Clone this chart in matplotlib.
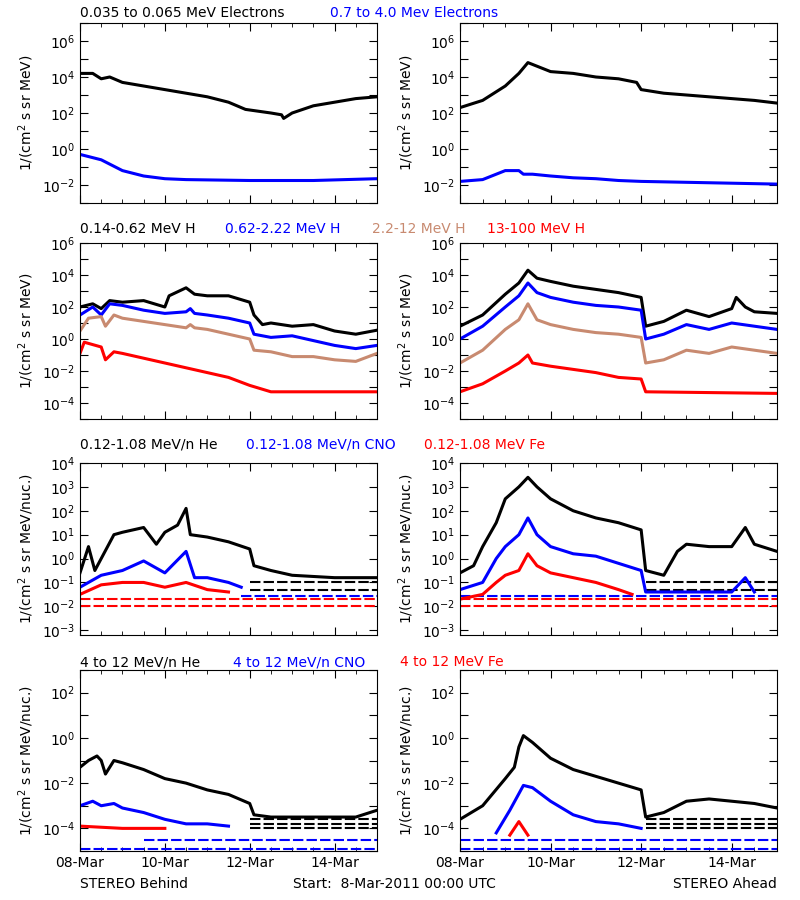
import numpy as np
import matplotlib
matplotlib.use("Agg")
import matplotlib.pyplot as plt
from matplotlib.ticker import FixedLocator, NullFormatter, MultipleLocator

# ---------------- data (log10 flux, t in days from 08-Mar 00:00) ----------------
# row 1: electrons
b_e_lo_t = [0, 0.3, 0.5, 0.7, 1.0, 1.5, 2.0, 2.5, 3.0, 3.5, 3.9, 4.5, 4.75, 4.8, 5.0, 5.5, 6.0, 6.5, 7.0]
b_e_lo_v = [4.2, 4.2, 3.9, 4.0, 3.7, 3.5, 3.3, 3.1, 2.9, 2.6, 2.2, 2.0, 1.9, 1.7, 2.0, 2.4, 2.6, 2.8, 2.9]
b_e_hi_t = [0, 0.5, 1.0, 1.5, 2.0, 2.5, 4.0, 5.5, 7.0]
b_e_hi_v = [-0.3, -0.6, -1.2, -1.5, -1.65, -1.7, -1.75, -1.75, -1.65]
a_e_lo_t = [0, 0.5, 1.0, 1.3, 1.5, 2.0, 2.5, 3.0, 3.5, 3.9, 4.0, 4.5, 5.0, 5.5, 6.0, 6.5, 7.0]
a_e_lo_v = [2.3, 2.7, 3.5, 4.2, 4.8, 4.3, 4.2, 4.0, 3.9, 3.7, 3.3, 3.1, 3.0, 2.9, 2.8, 2.7, 2.55]
a_e_hi_t = [0, 0.5, 1.0, 1.3, 1.4, 1.6, 2.0, 2.5, 3.0, 3.5, 4.0, 5.0, 6.0, 7.0]
a_e_hi_v = [-1.8, -1.7, -1.2, -1.2, -1.4, -1.4, -1.5, -1.6, -1.65, -1.75, -1.8, -1.85, -1.9, -1.95]

# row 2: protons
b_h1_t = [0, 0.3, 0.5, 0.7, 1.0, 1.5, 2.0, 2.1, 2.5, 2.7, 3.0, 3.5, 4.0, 4.1, 4.3, 4.5, 5.0, 5.5, 6.0, 6.5, 7.0]
b_h1_v = [2.0, 2.2, 1.9, 2.4, 2.3, 2.4, 2.0, 2.7, 3.2, 2.8, 2.7, 2.7, 2.3, 1.5, 0.9, 1.0, 0.8, 0.9, 0.5, 0.3, 0.55]
b_h2_t = [0, 0.3, 0.5, 0.7, 1.0, 1.5, 2.0, 2.5, 2.6, 2.7, 3.0, 3.5, 4.0, 4.1, 4.5, 5.0, 5.5, 6.0, 6.5, 7.0]
b_h2_v = [1.5, 2.0, 1.5, 2.2, 2.1, 1.8, 1.6, 1.7, 1.9, 1.6, 1.5, 1.3, 1.0, 0.3, 0.1, 0.2, -0.1, -0.4, -0.6, -0.4]
b_h3_t = [0, 0.2, 0.5, 0.6, 0.8, 1.0, 1.5, 2.0, 2.5, 2.6, 2.7, 3.0, 3.5, 4.0, 4.1, 4.5, 5.0, 5.5, 6.0, 6.5, 7.0]
b_h3_v = [0.5, 1.3, 1.4, 0.8, 1.5, 1.3, 1.1, 0.9, 0.7, 0.9, 0.7, 0.6, 0.3, 0.0, -0.7, -0.8, -1.1, -1.1, -1.3, -1.4, -0.9]
b_h4_t = [0, 0.1, 0.5, 0.6, 0.8, 1.0, 1.5, 2.0, 2.5, 3.0, 3.5, 4.0, 4.5, 5.0, 6.0, 7.0]
b_h4_v = [-0.9, -0.2, -0.5, -1.3, -0.8, -0.9, -1.2, -1.5, -1.8, -2.1, -2.4, -2.9, -3.3, -3.3, -3.3, -3.3]
a_h1_t = [0, 0.5, 1.0, 1.3, 1.5, 1.7, 2.0, 2.5, 3.0, 3.5, 4.0, 4.1, 4.5, 5.0, 5.5, 6.0, 6.1, 6.3, 6.5, 7.0]
a_h1_v = [0.8, 1.5, 2.8, 3.5, 4.3, 3.8, 3.6, 3.3, 3.1, 2.9, 2.6, 0.8, 1.1, 1.8, 1.4, 1.9, 2.6, 2.0, 1.7, 1.6]
a_h2_t = [0, 0.5, 1.0, 1.3, 1.5, 1.7, 2.0, 2.5, 3.0, 3.5, 4.0, 4.1, 4.5, 5.0, 5.5, 6.0, 6.5, 7.0]
a_h2_v = [0.0, 0.8, 2.0, 2.7, 3.5, 2.9, 2.6, 2.3, 2.1, 2.0, 1.8, 0.0, 0.3, 0.9, 0.6, 1.0, 0.8, 0.6]
a_h3_t = [0, 0.5, 1.0, 1.3, 1.5, 1.7, 2.0, 2.5, 3.0, 3.5, 4.0, 4.1, 4.5, 5.0, 5.5, 6.0, 6.5, 7.0]
a_h3_v = [-1.5, -0.7, 0.6, 1.2, 2.2, 1.2, 0.9, 0.6, 0.4, 0.3, 0.1, -1.5, -1.3, -0.7, -0.9, -0.5, -0.7, -0.9]
a_h4_t = [0, 0.5, 1.0, 1.3, 1.5, 1.6, 2.0, 2.5, 3.0, 3.5, 4.0, 4.1, 7.0]
a_h4_v = [-3.3, -2.8, -2.0, -1.5, -1.0, -1.5, -1.7, -1.9, -2.1, -2.4, -2.5, -3.3, -3.4]

# row 3: 0.12-1.08 MeV/n ions
b_he_t = [0, 0.2, 0.35, 0.5, 0.8, 1.0, 1.5, 1.8, 2.0, 2.3, 2.5, 2.6, 3.0, 3.5, 4.0, 4.1, 4.5, 5.0, 6.0, 7.0]
b_he_v = [-0.6, 0.5, -0.5, 0.0, 1.0, 1.1, 1.3, 0.6, 1.1, 1.4, 2.1, 1.0, 0.9, 0.7, 0.4, -0.3, -0.5, -0.7, -0.8, -0.8]
b_cno_t = [0, 0.5, 1.0, 1.5, 2.0, 2.5, 2.7, 3.0, 3.5, 3.8]
b_cno_v = [-1.2, -0.7, -0.5, -0.1, -0.6, 0.3, -0.8, -0.8, -1.0, -1.2]
b_fe_t = [0, 0.5, 1.0, 1.5, 2.0, 2.5, 3.0, 3.5]
b_fe_v = [-1.5, -1.1, -1.0, -1.0, -1.2, -1.0, -1.3, -1.4]
a_he_t = [0, 0.3, 0.5, 0.8, 1.0, 1.3, 1.5, 1.7, 2.0, 2.5, 3.0, 3.5, 4.0, 4.1, 4.5, 4.8, 5.0, 5.5, 6.0, 6.3, 6.5, 7.0]
a_he_v = [-0.6, -0.3, 0.5, 1.5, 2.5, 3.0, 3.4, 3.0, 2.5, 2.0, 1.7, 1.5, 1.2, -0.5, -0.7, 0.3, 0.6, 0.5, 0.5, 1.3, 0.6, 0.3]
a_cno_t = [0, 0.5, 0.8, 1.0, 1.3, 1.5, 1.7, 2.0, 2.5, 3.0, 3.5, 4.0, 4.1, 6.0, 6.3, 6.5]
a_cno_v = [-1.3, -1.0, 0.0, 0.5, 1.0, 1.7, 1.0, 0.5, 0.2, 0.1, -0.2, -0.5, -1.4, -1.4, -0.8, -1.4]
a_fe_t = [0, 0.5, 0.8, 1.0, 1.3, 1.5, 1.7, 2.0, 2.5, 3.0, 3.5, 3.8]
a_fe_v = [-1.7, -1.5, -1.0, -0.7, -0.5, 0.2, -0.3, -0.6, -0.8, -1.0, -1.3, -1.5]
# detection floors (level, colour, start day in the Behind panel)
row3_floor_lvls = [-1.0, -1.3, -1.55, -1.7, -2.0]
row3_floor_cols = ["black", "black", "blue", "red", "red"]
row3_floor_from = [4.0, 4.0, 3.8, 0.0, 0.0]

# row 4: 4-12 MeV/n ions
b_he4_t = [0, 0.2, 0.4, 0.5, 0.6, 0.8, 1.0, 1.5, 2.0, 2.5, 3.0, 3.5, 4.0, 4.1, 4.5, 5.0, 6.0, 6.5, 7.0]
b_he4_v = [-1.3, -1.0, -0.8, -1.0, -1.6, -1.0, -1.1, -1.4, -1.8, -2.0, -2.3, -2.5, -2.9, -3.4, -3.5, -3.5, -3.5, -3.5, -3.2]
b_cno4_t = [0, 0.3, 0.5, 0.8, 1.0, 1.5, 2.0, 2.5, 3.0, 3.5]
b_cno4_v = [-3.0, -2.8, -3.0, -2.9, -3.1, -3.3, -3.6, -3.8, -3.8, -3.9]
b_fe4_t = [0, 1.0, 2.0]
b_fe4_v = [-3.9, -4.0, -4.0]
a_he4_t = [0, 0.5, 1.0, 1.2, 1.3, 1.4, 1.6, 2.0, 2.5, 3.0, 3.5, 4.0, 4.1, 4.5, 5.0, 5.5, 6.0, 6.5, 7.0]
a_he4_v = [-3.6, -3.0, -1.8, -1.3, -0.4, 0.1, -0.2, -0.9, -1.4, -1.7, -2.0, -2.3, -3.5, -3.3, -2.8, -2.7, -2.8, -2.9, -3.1]
a_cno4_t = [0.8, 1.1, 1.4, 1.6, 2.0, 2.5, 3.0, 3.5, 4.0]
a_cno4_v = [-4.2, -3.2, -2.1, -2.2, -2.8, -3.4, -3.7, -3.8, -4.0]
a_fe4_t = [1.1, 1.3, 1.5]
a_fe4_v = [-4.3, -3.7, -4.3]
row4_floor_lvls = [-3.6, -3.8, -4.0, -4.5, -4.9]
row4_floor_cols = ["black", "black", "black", "blue", "blue"]
row4_floor_from = [4.0, 4.0, 4.0, 1.5, 0.0]

tick_days = [0, 2, 4, 6]
tick_labels = ["08-Mar", "10-Mar", "12-Mar", "14-Mar"]

TAN = "#c88a70"
plt.rcParams["font.family"] = "DejaVu Sans"
plt.rcParams["font.size"] = 10

fig = plt.figure(figsize=(8, 9), dpi=100)
W, H = 800, 900


def px_axes(x0, x1, y0, y1):
    return fig.add_axes([x0 / W, 1 - y1 / H, (x1 - x0) / W, (y1 - y0) / H])


rows_px = [(23, 203), (243, 419), (463, 635), (670, 851)]
title_y = [13, 229, 445, 662]
ylims = [(-3, 7), (-5, 6), (-3.2, 4), (-5, 3)]
label_step = [2, 2, 1, 2]
ylab = ["1/(cm$^2$ s sr MeV)", "1/(cm$^2$ s sr MeV)",
        "1/(cm$^2$ s sr MeV/nuc.)", "1/(cm$^2$ s sr MeV/nuc.)"]

series = [
    [[(b_e_lo_t, b_e_lo_v, "black"), (b_e_hi_t, b_e_hi_v, "blue")],
     [(a_e_lo_t, a_e_lo_v, "black"), (a_e_hi_t, a_e_hi_v, "blue")]],
    [[(b_h1_t, b_h1_v, "black"), (b_h2_t, b_h2_v, "blue"), (b_h3_t, b_h3_v, TAN), (b_h4_t, b_h4_v, "red")],
     [(a_h1_t, a_h1_v, "black"), (a_h2_t, a_h2_v, "blue"), (a_h3_t, a_h3_v, TAN), (a_h4_t, a_h4_v, "red")]],
    [[(b_he_t, b_he_v, "black"), (b_cno_t, b_cno_v, "blue"), (b_fe_t, b_fe_v, "red")],
     [(a_he_t, a_he_v, "black"), (a_cno_t, a_cno_v, "blue"), (a_fe_t, a_fe_v, "red")]],
    [[(b_he4_t, b_he4_v, "black"), (b_cno4_t, b_cno4_v, "blue"), (b_fe4_t, b_fe4_v, "red")],
     [(a_he4_t, a_he4_v, "black"), (a_cno4_t, a_cno4_v, "blue"), (a_fe4_t, a_fe4_v, "red")]],
]
floors = {2: (row3_floor_lvls, row3_floor_cols, row3_floor_from),
          3: (row4_floor_lvls, row4_floor_cols, row4_floor_from)}

for r, (y0, y1) in enumerate(rows_px):
    for c, (x0, x1) in enumerate([(80, 377), (460, 777)]):
        ax = px_axes(x0, x1, y0, y1)
        lo, hi = ylims[r]
        # floors first so data sits on top
        if r in floors:
            lv, cl, fr = floors[r]
            for l, col, f in zip(lv, cl, fr):
                start = f if c == 0 else (4.1 if col == "black" else 0.0)
                ax.hlines(10.0 ** l, start, 7, colors=col, lw=1.5, linestyles=(0, (5, 1.5)))
        for t, v, col in series[r][c]:
            ax.plot(t, 10.0 ** np.array(v), color=col, lw=2.2)
        ax.set_yscale("log")
        ax.set_ylim(10.0 ** lo, 10.0 ** hi)
        ax.set_xlim(0, 7)
        dec = np.arange(np.ceil(lo), np.floor(hi) + 1)
        ax.yaxis.set_major_locator(FixedLocator(10.0 ** dec))
        ax.yaxis.set_minor_locator(FixedLocator([]))
        ax.set_yticklabels(["$10^{%d}$" % d if d % label_step[r] == 0 else "" for d in dec])
        ax.xaxis.set_major_locator(FixedLocator(tick_days))
        ax.xaxis.set_minor_locator(MultipleLocator(0.5))
        if r == 3:
            ax.set_xticklabels(tick_labels)
        else:
            ax.xaxis.set_major_formatter(NullFormatter())
        ax.tick_params(which="both", direction="in", top=True, right=True, labelsize=10)
        ax.tick_params(which="major", length=6)
        ax.tick_params(which="minor", length=3)
        ax.set_ylabel(ylab[r], fontsize=10)

# row titles
titles = [
    [(80, "0.035 to 0.065 MeV Electrons", "black"), (330, "0.7 to 4.0 Mev Electrons", "blue")],
    [(80, "0.14-0.62 MeV H", "black"), (225, "0.62-2.22 MeV H", "blue"), (372, "2.2-12 MeV H", TAN), (487, "13-100 MeV H", "red")],
    [(80, "0.12-1.08 MeV/n He", "black"), (246, "0.12-1.08 MeV/n CNO", "blue"), (424, "0.12-1.08 MeV Fe", "red")],
    [(80, "4 to 12 MeV/n He", "black"), (233, "4 to 12 MeV/n CNO", "blue"), (400, "4 to 12 MeV Fe", "red")],
]
for ty, row in zip(title_y, titles):
    for x, s, col in row:
        fig.text(x / W, 1 - ty / H, s, color=col, fontsize=10, va="center")

fig.text(80 / W, 1 - 884 / H, "STEREO Behind", fontsize=10, va="center")
fig.text(293 / W, 1 - 884 / H, "Start:  8-Mar-2011 00:00 UTC", fontsize=10, va="center")
fig.text(777 / W, 1 - 884 / H, "STEREO Ahead", fontsize=10, va="center", ha="right")

fig.savefig("out.png", dpi=100)
